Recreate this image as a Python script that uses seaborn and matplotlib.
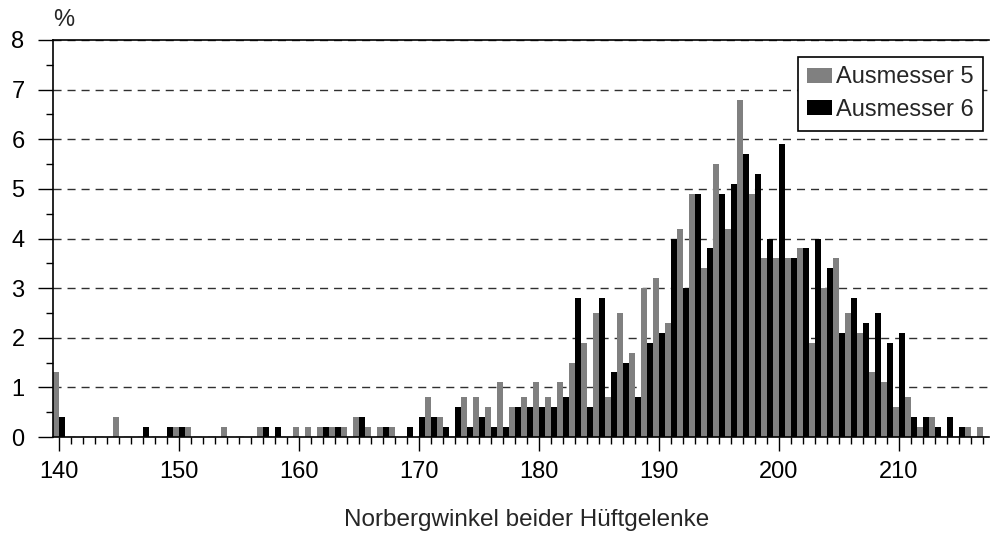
import matplotlib
matplotlib.use("Agg")
import matplotlib.pyplot as plt
import numpy as np
import pandas as pd
import seaborn as sns
from matplotlib.ticker import FixedLocator, MultipleLocator

# ---------------- data ----------------
angles = list(range(140, 218))
ausmesser5 = [
    1.3, 0, 0, 0, 0, 0.4, 0, 0, 0, 0,          # 140-149
    0.2, 0.2, 0, 0, 0.2, 0, 0, 0.2, 0, 0,      # 150-159
    0.2, 0.2, 0.2, 0.2, 0.2, 0.4, 0.2, 0.2, 0.2, 0,  # 160-169
    0, 0.8, 0.4, 0, 0.8, 0.8, 0.6, 1.1, 0.6, 0.8,    # 170-179
    1.1, 0.8, 1.1, 1.5, 1.9, 2.5, 0.8, 2.5, 1.7, 3.0,  # 180-189
    3.2, 2.3, 4.2, 4.9, 3.4, 5.5, 4.2, 6.8, 4.9, 3.6,  # 190-199
    3.6, 3.6, 3.8, 1.9, 3.0, 3.6, 2.5, 2.1, 1.3, 1.1,  # 200-209
    0.6, 0.8, 0.2, 0.4, 0, 0, 0.2, 0.2,                # 210-217
]
ausmesser6 = [
    0.4, 0, 0, 0, 0, 0, 0, 0.2, 0, 0.2,        # 140-149
    0.2, 0, 0, 0, 0, 0, 0, 0.2, 0.2, 0,        # 150-159
    0, 0, 0.2, 0.2, 0, 0.4, 0, 0.2, 0, 0.2,    # 160-169
    0.4, 0.4, 0.2, 0.6, 0.2, 0.4, 0.2, 0.2, 0.6, 0.6,  # 170-179
    0.6, 0.6, 0.8, 2.8, 0.6, 2.8, 1.3, 1.5, 0.8, 1.9,  # 180-189
    2.1, 4.0, 3.0, 4.9, 3.8, 4.9, 5.1, 5.7, 5.3, 4.0,  # 190-199
    5.9, 3.6, 3.8, 4.0, 3.4, 2.1, 2.8, 2.3, 2.5, 1.9,  # 200-209
    2.1, 0.4, 0.4, 0.2, 0.4, 0.2, 0, 0,                # 210-217
]
series_names = ["Ausmesser 5", "Ausmesser 6"]
series_colors = ["#808080", "#000000"]
x_label = "Norbergwinkel beider Hüftgelenke"
y_unit = "%"
y_ticks = [0, 1, 2, 3, 4, 5, 6, 7, 8]

df = pd.DataFrame({
    "Winkel": angles + angles,
    "Prozent": ausmesser5 + ausmesser6,
    "Serie": [series_names[0]] * len(angles) + [series_names[1]] * len(angles),
})

# ---------------- style ----------------
sns.set_theme(style="white")
plt.rcParams["font.family"] = ["Liberation Sans", "DejaVu Sans"]
FS = 17

W, H = 993, 534
fig = plt.figure(figsize=(W / 100, H / 100), dpi=100)
fig.patch.set_facecolor("white")
ax = fig.add_axes([53 / W, 1 - 437 / H, (989 - 53) / W, (437 - 40) / H])
ax.set_facecolor("white")

sns.barplot(data=df, x="Winkel", y="Prozent", hue="Serie",
            hue_order=series_names, palette=series_colors,
            width=0.96, dodge=True, saturation=1, ax=ax,
            edgecolor="none", linewidth=0, errorbar=None)

n = len(angles)
ax.set_xlim(-0.5, n - 0.5)
ax.set_ylim(0, 8)

# x ticks: major every 10, minor at every category
major_pos = [i for i, a in enumerate(angles) if a % 10 == 0]
ax.set_xticks(major_pos)
ax.set_xticklabels([str(angles[i]) for i in major_pos], fontsize=FS, color="black")
ax.xaxis.set_minor_locator(FixedLocator(list(range(n))))
ax.tick_params(axis="x", which="major", direction="out", length=10, width=1,
               color="black", pad=7.5, bottom=True)
ax.tick_params(axis="x", which="minor", direction="out", length=5, width=1,
               color="black", bottom=True)

# y ticks
ax.set_yticks(y_ticks)
ax.set_yticklabels([str(t) for t in y_ticks], fontsize=FS, color="black")
ax.yaxis.set_minor_locator(MultipleLocator(0.5))
ax.tick_params(axis="y", which="major", direction="out", length=10.5, width=1,
               color="black", pad=10, left=True)
ax.tick_params(axis="y", which="minor", direction="out", length=5, width=1,
               color="black", left=True)

# grid
ax.set_axisbelow(True)
ax.yaxis.grid(True, which="major", color="#303030", linewidth=1,
              linestyle=(0, (5.8, 4.3)))
ax.xaxis.grid(False)

# spines
for s in ["left", "bottom", "top"]:
    ax.spines[s].set_visible(True)
    ax.spines[s].set_color("black")
    ax.spines[s].set_linewidth(1.2)
ax.spines["right"].set_visible(False)

ax.set_xlabel("")
ax.set_ylabel("")
fig.text(527 / W, 1 - 520 / H, x_label, ha="center", va="center", fontsize=FS + 0.5)
fig.text(64 / W, 1 - 20 / H, y_unit, ha="center", va="center", fontsize=FS)

# legend
handles, labels = ax.get_legend_handles_labels()
old = ax.get_legend()
if old is not None:
    old.remove()
leg = fig.legend(handles, labels, loc="upper right",
                 bbox_to_anchor=(983 / W, 1 - 57 / H),
                 fontsize=FS, frameon=True, fancybox=False, shadow=False,
                 edgecolor="black", facecolor="white", framealpha=1,
                 handlelength=1.05, handleheight=0.6, handletextpad=0.15,
                 labelspacing=0.45, borderpad=0.4, borderaxespad=0)
leg.get_frame().set_linewidth(1.2)

fig.savefig("out.png", dpi=100, facecolor="white")
